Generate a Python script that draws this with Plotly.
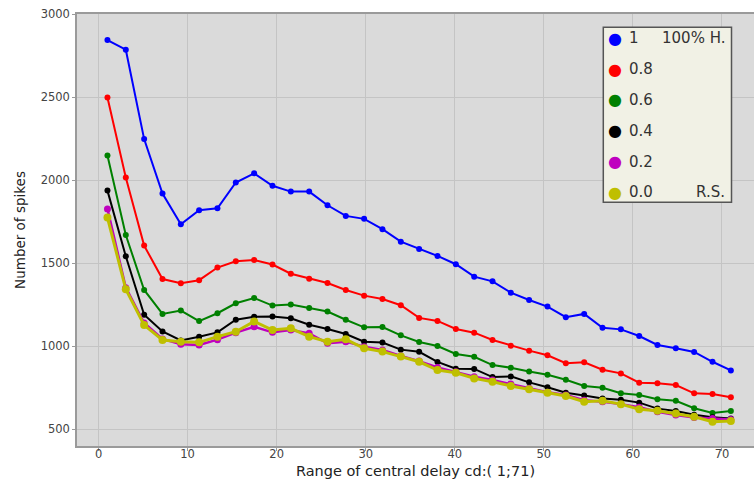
import plotly.graph_objects as go

# ---------------- data ----------------
x_vals = [1.00, 3.06, 5.12, 7.18, 9.24, 11.29, 13.35, 15.41, 17.47, 19.53,
          21.59, 23.65, 25.71, 27.76, 29.82, 31.88, 33.94, 36.00, 38.06, 40.12,
          42.18, 44.24, 46.29, 48.35, 50.41, 52.47, 54.53, 56.59, 58.65, 60.71,
          62.76, 64.82, 66.88, 68.94, 71.00]

s_10 = [2843, 2785, 2247, 1919, 1735, 1819, 1831, 1986, 2041, 1966,
        1931, 1931, 1849, 1785, 1767, 1705, 1630, 1586, 1544, 1494,
        1419, 1391, 1323, 1279, 1239, 1175, 1195, 1112, 1102, 1062,
        1008, 988, 966, 907, 855]
s_08 = [2498, 2016, 1606, 1405, 1380, 1398, 1474, 1512, 1520, 1492,
        1437, 1407, 1381, 1339, 1305, 1285, 1247, 1171, 1153, 1104,
        1082, 1038, 1004, 974, 946, 898, 904, 859, 837, 781,
        777, 767, 717, 713, 693]
s_06 = [2148, 1670, 1339, 1195, 1215, 1152, 1199, 1259, 1291, 1245,
        1251, 1231, 1209, 1160, 1114, 1116, 1066, 1026, 1002, 954,
        937, 887, 871, 849, 829, 799, 761, 751, 717, 707,
        681, 672, 627, 599, 610]
s_04 = [1937, 1542, 1190, 1089, 1035, 1057, 1084, 1160, 1178, 1180,
        1169, 1130, 1104, 1074, 1028, 1023, 980, 967, 906, 865,
        864, 815, 819, 783, 754, 721, 704, 686, 679, 661,
        625, 610, 588, 573, 565]
s_02 = [1827, 1353, 1140, 1044, 1012, 1008, 1040, 1082, 1118, 1084,
        1098, 1078, 1018, 1028, 998, 978, 942, 911, 873, 847,
        817, 797, 773, 747, 723, 707, 676, 666, 652, 633,
        606, 586, 572, 566, 560]
s_00 = [1775, 1343, 1128, 1038, 1028, 1024, 1058, 1088, 1150, 1098,
        1108, 1058, 1028, 1042, 988, 968, 938, 907, 857, 841,
        807, 787, 761, 741, 721, 701, 666, 672, 652, 621,
        612, 596, 576, 546, 550]

series = [s_10, s_08, s_06, s_04, s_02, s_00]
series_names = ["1", "0.8", "0.6", "0.4", "0.2", "0.0"]
legend_right = ["100% H.", "", "", "", "", "R.S."]
series_colors = ["#0000ff", "#ff0000", "#008000", "#000000", "#bf00bf", "#bfbf00"]
line_widths = [2, 2, 2, 2, 2.5, 3]
marker_sizes = [6, 6, 6, 6, 7, 8]

x_ticks = [0, 10, 20, 30, 40, 50, 60, 70]
y_ticks = [500, 1000, 1500, 2000, 2500, 3000]

x_title = "Range of central delay cd:( 1;71)"
y_title = "Number of spikes"

# ---------------- figure ----------------
W, H = 754, 479
ML, MR, MT, MB = 77, 0, 14, 33
fig = go.Figure()
for ys, name, col, lw, ms in zip(series, series_names, series_colors, line_widths, marker_sizes):
    fig.add_trace(go.Scatter(x=x_vals, y=ys, mode="lines+markers", name=name,
                             line=dict(color=col, width=lw),
                             marker=dict(color=col, size=ms),
                             showlegend=False))

FONT = "DejaVu Sans"
fig.update_layout(
    width=W, height=H,
    margin=dict(l=ML, r=MR, t=MT, b=MB),
    paper_bgcolor="white", plot_bgcolor="#dadada",
    font=dict(family=FONT, color="#333333"),
    showlegend=False,
)
axis_common = dict(showgrid=True, gridcolor="#c4c4c4", gridwidth=1,
                   showline=True, linecolor="#9a9a9a", linewidth=1.5,
                   ticks="outside", ticklen=3, tickcolor="#9a9a9a",
                   zeroline=False, tickfont=dict(size=11.5, color="#444444"))
fig.update_xaxes(range=[-2.42, 73.6], tickvals=x_ticks, mirror=True,
                 ticklabelstandoff=-7,
                 title=dict(text=x_title, font=dict(size=14.5, color="#222222")),
                 automargin=False, **axis_common)
fig.update_yaxes(range=[400, 3000], tickvals=y_ticks,
                 title=dict(text=y_title, font=dict(size=13.5, color="#222222"), standoff=12),
                 automargin=False, **axis_common)

# ---------------- manual legend ----------------
pw, ph = W - ML - MR, H - MT - MB
def px(xp):
    return (xp - ML) / pw
def py(yp):
    return (H - MB - yp) / ph

box_l, box_r, box_t, box_b = 603.3, 731.5, 27.3, 202.3
fig.add_shape(type="rect", xref="paper", yref="paper",
              x0=px(box_l), x1=px(box_r), y0=py(box_b), y1=py(box_t),
              fillcolor="#f1f1e5", line=dict(color="#555555", width=1.5), layer="above")
row0, row_step = 38.3, 30.8
for i, (name, col, rt) in enumerate(zip(series_names, series_colors, legend_right)):
    yy = py(row0 + i * row_step)
    fig.add_annotation(xref="paper", yref="paper", x=px(615), y=yy, text="●",
                       showarrow=False, xanchor="center", yanchor="middle",
                       font=dict(family=FONT, size=16, color=col))
    fig.add_annotation(xref="paper", yref="paper", x=px(626.5), y=yy, text=name,
                       showarrow=False, xanchor="left", yanchor="middle",
                       font=dict(family=FONT, size=15, color="#333333"))
    if rt:
        fig.add_annotation(xref="paper", yref="paper", x=px(727), y=yy, text=rt,
                           showarrow=False, xanchor="right", yanchor="middle",
                           font=dict(family=FONT, size=15, color="#333333"))

fig.write_html("out.html", config={"displayModeBar": False},
               post_script="document.body.style.margin='0px';document.body.style.overflow='hidden';")
